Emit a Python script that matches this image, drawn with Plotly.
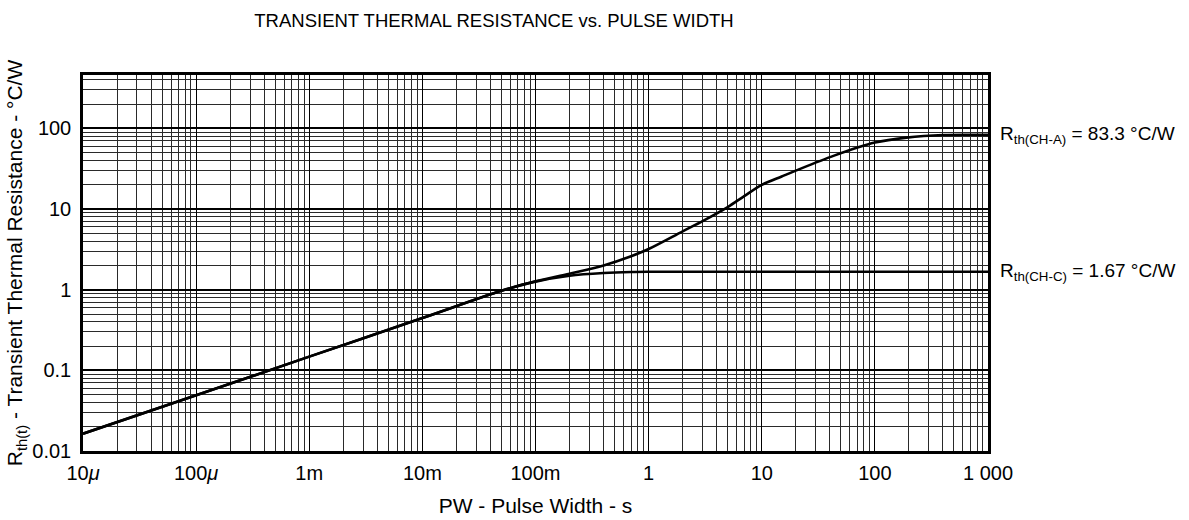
import plotly.graph_objects as go
import math

# ---- data ----
pw_a = [1e-5, 1e-4, 1e-3, 1e-2, 0.05, 0.1, 0.2, 0.4, 0.7, 1, 2, 3, 5, 7, 10, 15, 20, 43, 100, 190, 400, 1000]
rth_a = [0.0164, 0.049, 0.148, 0.445, 0.97, 1.27, 1.58, 2.0, 2.6, 3.2, 5.3, 7.1, 10.6, 14.5, 20, 25.4, 30, 45.7, 66.8, 77, 83, 83.3]

pw_c = [1e-5, 1e-4, 1e-3, 1e-2, 0.05, 0.1, 0.2, 0.4, 0.7, 1, 1000]
rth_c = [0.0164, 0.049, 0.148, 0.445, 0.97, 1.26, 1.49, 1.61, 1.66, 1.67, 1.67]

x_tickvals = [1e-5, 1e-4, 1e-3, 1e-2, 1e-1, 1, 10, 100, 1000]
x_ticktext = ["10<i>μ</i>", "100<i>μ</i>", "1m", "10m", "100m", "1", "10", "100", "1 000"]
y_tickvals = [0.01, 0.1, 1, 10, 100]
y_ticktext = ["0.01", "0.1", "1", "10", "100"]

label_a = "R<sub>th(CH-A)</sub> = 83.3 °C/W"
label_c = "R<sub>th(CH-C)</sub> = 1.67 °C/W"
value_a = 83.3
value_c = 1.67

title_text = "TRANSIENT THERMAL RESISTANCE vs. PULSE WIDTH"
x_title = "PW - Pulse Width - s"
y_title = "R<sub>th(t)</sub> - Transient Thermal Resistance - °C/W"

# minor grid values (2..9 per decade)
x_minor = [m * 10.0 ** e for e in range(-5, 3) for m in range(2, 10)]
y_minor = [m * 10.0 ** e for e in range(-2, 3) for m in range(2, 10) if m * 10.0 ** e < 460]

FONT = "Liberation Sans, Arial, sans-serif"
FS_TICK = 20
FS_TITLE = 21

fig = go.Figure()
fig.add_trace(go.Scatter(x=pw_a, y=rth_a, mode="lines",
                         line=dict(color="black", width=2.6, shape="spline", smoothing=0.9),
                         showlegend=False, hoverinfo="skip"))
fig.add_trace(go.Scatter(x=pw_c, y=rth_c, mode="lines",
                         line=dict(color="black", width=2.6, shape="spline", smoothing=0.9),
                         showlegend=False, hoverinfo="skip"))

fig.update_layout(
    width=1189, height=520,
    margin=dict(l=83, r=201, t=75, b=69, autoexpand=False),
    paper_bgcolor="white", plot_bgcolor="white",
    font=dict(family=FONT, size=FS_TICK, color="black"),
    title=dict(text=title_text, x=494 / 1189, xanchor="center", y=1 - 21 / 520, yanchor="middle",
               font=dict(size=18.5, family=FONT, color="black")),
)

fig.update_xaxes(
    type="log", range=[-5, 3], automargin=False,
    tickvals=x_tickvals, ticktext=x_ticktext,
    tickfont=dict(size=FS_TICK),
    showgrid=True, gridcolor="black", gridwidth=1.3,
    minor=dict(tickvals=x_minor, showgrid=True, gridcolor="#2a2a2a", gridwidth=1, ticks=""),
    showline=True, linecolor="black", linewidth=2.5, mirror=True,
    ticks="", ticklabelstandoff=2,
    title=dict(text=x_title, standoff=16, font=dict(size=FS_TITLE)),
    zeroline=False,
)
fig.update_yaxes(
    type="log", range=[-2, math.log10(460)], automargin=False,
    tickvals=y_tickvals, ticktext=y_ticktext,
    tickfont=dict(size=FS_TICK),
    showgrid=True, gridcolor="black", gridwidth=1.6,
    minor=dict(tickvals=y_minor, showgrid=True, gridcolor="#2a2a2a", gridwidth=1, ticks=""),
    showline=True, linecolor="black", linewidth=2.5, mirror=True,
    ticks="", ticklabelstandoff=5,
    title=dict(text=y_title, standoff=4, font=dict(size=FS_TITLE)),
    zeroline=False,
)

for txt, val in [(label_a, value_a), (label_c, value_c)]:
    fig.add_annotation(text=txt, xref="paper", yref="y", x=1.011, y=math.log10(val),
                       xanchor="left", yanchor="middle", showarrow=False,
                       font=dict(size=19, family=FONT, color="black"))

fig.write_html("out.html", config={"displayModeBar": False},
               post_script="document.body.style.margin='0';")
